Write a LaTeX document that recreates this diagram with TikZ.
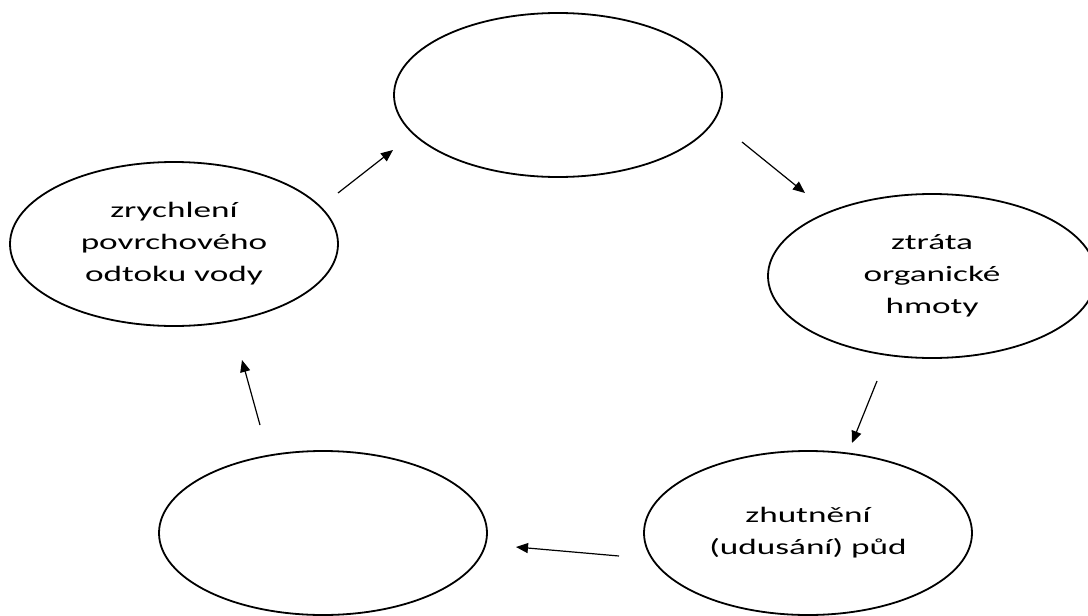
\documentclass[tikz,border=0pt]{standalone}
\usepackage{fontspec}
\setmainfont{Carlito}[FakeStretch=1.6]
\usetikzlibrary{arrows.meta,shapes.geometric}
\newcommand\cycletextstyle{\fontsize{22}{32}\selectfont}
\newcommand\cyclewidth{328}
\newcommand\cycleheight{164}
\tikzset{
  cyclenode/.style={draw, line width=1.8pt, ellipse, inner sep=0pt,
    minimum width=\cyclewidth, minimum height=\cycleheight,
    align=center, font=\cycletextstyle},
  cyclearrow/.style={line width=1.2pt, -{Triangle[length=12pt,width=10pt]}}
}
\begin{document}
\begin{tikzpicture}[x=1pt, y=-1pt]
    \useasboundingbox (0, 0) rectangle (1088, 616) ;
    \node[cyclenode] (top) at (558, 95) {} ;
    \node[cyclenode] (organic) at (932, 276) {ztráta\\organické\\hmoty} ;
    \node[cyclenode] (compact) at (808, 533) {zhutnění\\(udusání) půd} ;
    \node[cyclenode] (botleft) at (323, 533) {} ;
    \node[cyclenode] (runoff) at (174, 244) {zrychlení\\povrchového\\odtoku vody} ;

    \coordinate (runoffout) at (338, 193) ;
    \coordinate (topin) at (393, 150) ;
    \coordinate (topout) at (742, 142) ;
    \coordinate (organicin) at (805, 193) ;
    \coordinate (organicout) at (877, 381) ;
    \coordinate (compactin) at (852, 443) ;
    \coordinate (compactout) at (619, 556) ;
    \coordinate (botleftin) at (516, 547) ;
    \coordinate (botleftout) at (260, 425) ;
    \coordinate (runoffin) at (242, 360) ;

    \draw[cyclearrow] (runoffout) -- (topin) ;
    \draw[cyclearrow] (topout) -- (organicin) ;
    \draw[cyclearrow] (organicout) -- (compactin) ;
    \draw[cyclearrow] (compactout) -- (botleftin) ;
    \draw[cyclearrow] (botleftout) -- (runoffin) ;
  \end{tikzpicture}
\end{document}
